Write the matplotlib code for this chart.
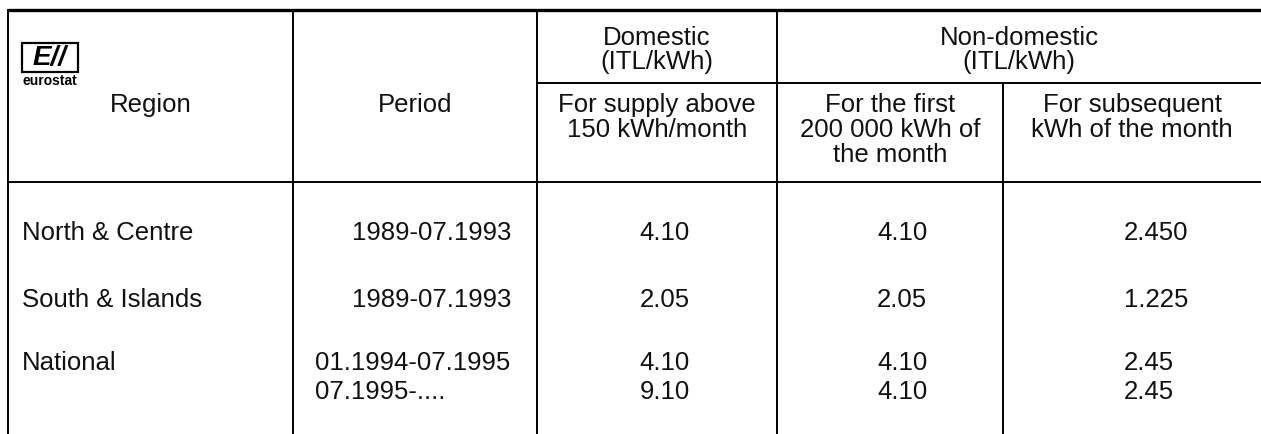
import matplotlib.pyplot as plt
from matplotlib.patches import Rectangle

plt.rcParams['font.family'] = ['Liberation Sans', 'DejaVu Sans']

# table content
regions = ["North & Centre", "South & Islands", "National", ""]
periods = ["1989-07.1993", "1989-07.1993", "01.1994-07.1995", "07.1995-...."]
domestic = ["4.10", "2.05", "4.10", "9.10"]
nondom_first = ["4.10", "2.05", "4.10", "4.10"]
nondom_next = ["2.450", "1.225", "2.45", "2.45"]

group_headers = [["Domestic", "(ITL/kWh)"], ["Non-domestic", "(ITL/kWh)"]]
sub_headers = [["For supply above", "150 kWh/month"],
               ["For the first", "200 000 kWh of", "the month"],
               ["For subsequent", "kWh of the month"]]

# layout in pixels (y downwards)
W, H = 1261, 434
row_y = [233, 300, 363, 392]
fs = 18.5
ink = '#111111'

fig = plt.figure(figsize=(W / 100, H / 100), dpi=100)
ax = fig.add_axes([0, 0, 1, 1])
ax.set_xlim(0, W)
ax.set_ylim(H, 0)
ax.axis('off')

# rules
lw = 1.4
ax.plot([8, W], [10, 10], color='black', lw=2.4, solid_capstyle='butt')
ax.plot([8, W], [182, 182], color='black', lw=lw)
ax.plot([537, W], [83, 83], color='black', lw=lw)
for x in [8, 293, 537, 777]:
    ax.plot([x, x], [10, H], color='black', lw=lw)
ax.plot([1003, 1003], [83, H], color='black', lw=lw)

# eurostat logo
ax.add_patch(Rectangle((22, 43), 56, 29, fill=False, lw=1.6, ec='black'))
ax.text(50, 58, "E//", fontsize=20, fontweight='bold', style='italic',
        ha='center', va='center')
ax.text(50, 81, "eurostat", fontsize=10, fontweight='bold', ha='center', va='center')

# header text
ax.text(151, 105, "Region", fontsize=fs, ha='center', va='center', color=ink)
ax.text(415, 105, "Period", fontsize=fs, ha='center', va='center', color=ink)

for cx, lines in zip([657, 1019], group_headers):
    for i, s in enumerate(lines):
        ax.text(cx, 38 + 24 * i, s, fontsize=fs, ha='center', va='center', color=ink)

for cx, lines in zip([657, 890, 1132], sub_headers):
    for i, s in enumerate(lines):
        ax.text(cx, 105 + 25 * i, s, fontsize=fs, ha='center', va='center', color=ink)

# body
for i, y in enumerate(row_y):
    ax.text(22, y, regions[i], fontsize=fs, ha='left', va='center', color=ink)
    if i < 2:
        ax.text(511, y, periods[i], fontsize=fs, ha='right', va='center', color=ink)
    else:
        ax.text(315, y, periods[i], fontsize=fs, ha='left', va='center', color=ink)
    ax.text(665, y, domestic[i], fontsize=fs, ha='center', va='center', color=ink)
    ax.text(902, y, nondom_first[i], fontsize=fs, ha='center', va='center', color=ink)
    ax.text(1124, y, nondom_next[i], fontsize=fs, ha='left', va='center', color=ink)

fig.savefig('out.png', dpi=100, facecolor='white')
